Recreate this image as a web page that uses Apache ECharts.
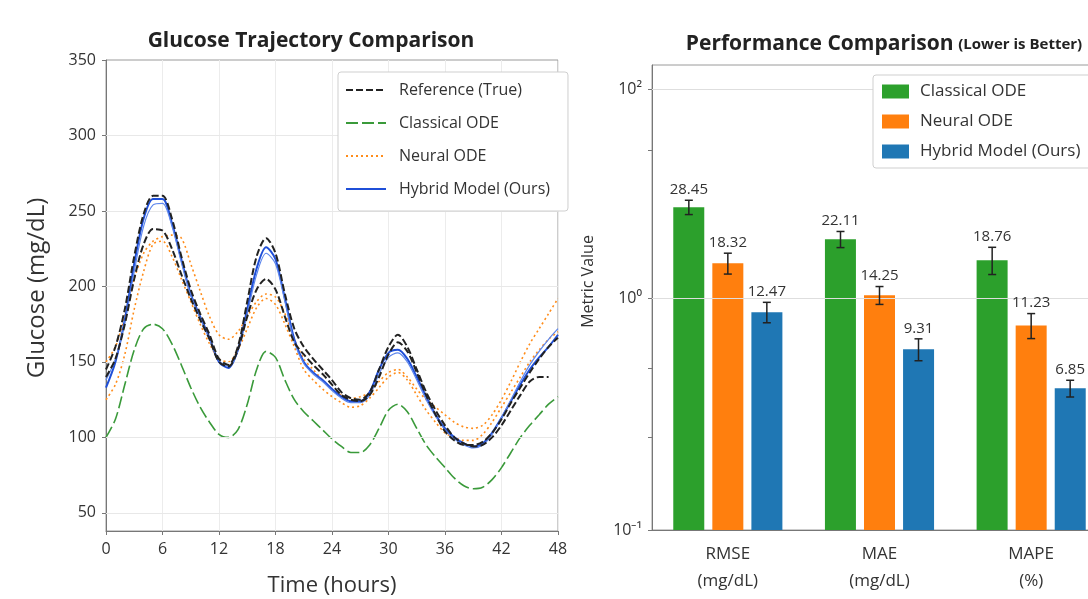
<!DOCTYPE html>
<html>
<head>
<meta charset="utf-8">
<script src="https://cdn.jsdelivr.net/npm/echarts@6/dist/echarts.min.js"></script>
<style>
html, body { margin: 0; background: #fff; }
#chart { width: 1088px; height: 599px; }
</style>
</head>
<body>
<div id="chart"></div>
<script>
// time axis (hours)
const hours = [0, 1, 2, 3, 4, 5, 6, 7, 8, 9, 10, 11, 12, 13, 14, 15, 16, 17, 18, 19, 20, 21, 22, 23, 24,
    25, 26, 27, 28, 29, 30, 31, 32, 33, 34, 35, 36, 37, 38, 39, 40, 41, 42, 43, 44, 45, 46, 47, 48];

const referenceMain = [145, 160, 185, 220, 248, 260, 260, 245, 220, 198, 182, 168, 152, 148, 160, 190, 220, 232, 222, 195,
    172, 160, 152, 145, 138, 130, 126, 125, 130, 145, 160, 168, 160, 145, 130, 118, 108, 100, 96, 94,
    95, 100, 108, 118, 128, 137, 140, 140, null];
const referenceAlt = [140, 152, 175, 205, 228, 238, 237, 225, 208, 192, 178, 165, 150, 147, 158, 180, 198, 205, 198, 180,
    163, 155, 148, 142, 135, 128, 125, 124, 128, 140, 155, 163, 157, 143, 128, 115, 104, 98, 95, 95,
    97, 103, 112, 123, 133, 143, 152, 160, 166];
const classicalOde = [100, 112, 135, 158, 172, 175, 172, 162, 148, 133, 120, 110, 102, 100, 105, 122, 145, 157, 153, 138,
    125, 117, 111, 105, 99, 94, 90, 90, 95, 106, 118, 122, 117, 106, 95, 87, 80, 73, 68, 66,
    67, 72, 80, 90, 100, 108, 115, 122, 127];
const neuralMain = [150, 160, 180, 205, 222, 230, 233, 234, 232, 215, 197, 180, 168, 165, 170, 180, 190, 195, 193, 182,
    165, 152, 145, 138, 132, 128, 126, 127, 130, 137, 143, 145, 140, 132, 125, 120, 115, 110, 107, 106,
    108, 115, 125, 137, 150, 162, 172, 182, 192];
const neuralAlt = [125, 135, 155, 185, 210, 228, 230, 220, 205, 190, 175, 162, 152, 150, 158, 172, 186, 192, 188, 175,
    160, 145, 138, 132, 127, 123, 120, 121, 126, 133, 140, 143, 138, 128, 118, 110, 103, 100, 98, 98,
    102, 110, 120, 130, 140, 150, 158, 165, 170];
const hybridMain = [133, 150, 178, 215, 245, 258, 258, 242, 218, 195, 180, 166, 150, 146, 158, 185, 212, 226, 218, 192,
    165, 150, 143, 138, 132, 127, 124, 124, 130, 145, 156, 158, 152, 140, 127, 115, 106, 100, 96, 94,
    96, 103, 113, 124, 135, 145, 153, 160, 168];
const hybridAlt = [138, 152, 176, 210, 240, 254, 255, 240, 216, 194, 179, 165, 151, 147, 157, 182, 208, 222, 215, 190,
    163, 149, 142, 137, 131, 126, 123, 123, 128, 142, 153, 156, 150, 138, 125, 114, 105, 99, 95, 93,
    95, 102, 113, 125, 137, 148, 157, 165, 172];

const glucoseTicks = [50, 100, 150, 200, 250, 300, 350];

// performance metrics
const metricNames = ['RMSE\n(mg/dL)', 'MAE\n(mg/dL)', 'MAPE\n(%)'];
const classicalScores = [28.45, 22.11, 18.76];
const neuralScores = [18.32, 14.25, 11.23];
const hybridScores = [12.47, 9.31, 6.85];
const classicalErr = [1.6, 1.4, 2.0];
const neuralErr = [1.5, 1.0, 1.1];
const hybridErr = [1.0, 0.8, 0.45];
const metricTickValues = [71.9, 13.9, 2.25];
const metricTickLabels = ['10²', '10⁰', '10⁻¹'];
const metricMinorTicks = [44.5, 8.0, 4.67];

const FONT = 'Open Sans';

function pairs(values) {
    return hours.map((h, i) => [h, values[i]]);
}

function lineSeries(name, values, color, width, dash, z) {
    return {
        name: name,
        type: 'line',
        data: pairs(values),
        symbol: 'none',
        smooth: 0.3,
        z: z,
        lineStyle: { color: color, width: width, type: dash },
        itemStyle: { color: color }
    };
}

function barSeries(name, values, color) {
    return {
        name: name,
        type: 'bar',
        xAxisIndex: 1,
        yAxisIndex: 1,
        data: values,
        barWidth: 31,
        barGap: '26%',
        itemStyle: { color: color }
    };
}

function errorSeries(slot, values, errs) {
    return {
        type: 'custom',
        xAxisIndex: 1,
        yAxisIndex: 1,
        z: 10,
        data: values.map((v, i) => [i, v - errs[i], v + errs[i], v]),
        encode: { x: 0, y: [1, 2] },
        renderItem: function (params, api) {
            const lo = api.coord([api.value(0), api.value(1)]);
            const hi = api.coord([api.value(0), api.value(2)]);
            const x = lo[0] + (slot - 1) * 39;
            const st = { stroke: '#222', lineWidth: 1.5 };
            return {
                type: 'group',
                children: [
                    { type: 'line', shape: { x1: x, y1: lo[1], x2: x, y2: hi[1] }, style: st },
                    { type: 'line', shape: { x1: x - 4, y1: hi[1], x2: x + 4, y2: hi[1] }, style: st },
                    { type: 'line', shape: { x1: x - 4, y1: lo[1], x2: x + 4, y2: lo[1] }, style: st },
                    {
                        type: 'text', x: x, y: hi[1] - 3,
                        style: {
                            text: api.value(3).toFixed(2), fill: '#333',
                            font: '15px "' + FONT + '"', align: 'center', verticalAlign: 'bottom'
                        }
                    }
                ]
            };
        }
    };
}

const chart = echarts.init(document.getElementById('chart'));

const glucoseGrid = lineSeries('Reference (True)', referenceMain, '#222', 2, [7, 3], 6);
glucoseGrid.markLine = {
    silent: true, symbol: 'none', label: { show: false },
    lineStyle: { color: '#e8e8e8', width: 1, type: 'solid' },
    data: glucoseTicks.slice(0, -1).map(v => ({ yAxis: v }))
};

const classicalBar = barSeries('Classical ODE ', classicalScores, '#2ca02c');
classicalBar.markLine = {
    silent: true, symbol: 'none', label: { show: false },
    lineStyle: { color: '#dedede', width: 1, type: 'solid' },
    data: metricTickValues.slice(0, 2).map(v => ({ yAxis: v }))
};

const option = {
    animation: false,
    textStyle: { fontFamily: FONT },
    title: [
        {
            text: 'Glucose Trajectory Comparison',
            left: 306, top: 26, textAlign: 'center',
            textStyle: { fontFamily: FONT, fontSize: 21, fontWeight: 'bold', color: '#222' }
        },
        {
            text: '{a|Performance Comparison} {b|(Lower is Better)}',
            left: 879, top: 29, textAlign: 'center',
            textStyle: {
                rich: {
                    a: { fontFamily: FONT, fontSize: 21, fontWeight: 'bold', color: '#222' },
                    b: { fontFamily: FONT, fontSize: 15, fontWeight: 'bold', color: '#222' }
                }
            }
        }
    ],
    legend: [
        {
            data: ['Reference (True)', 'Classical ODE', 'Neural ODE', 'Hybrid Model (Ours)'],
            orient: 'vertical',
            left: 338, top: 72, z: 20,
            padding: [10, 18, 14, 7],
            itemWidth: 40, itemHeight: 14, itemGap: 17,
            itemStyle: { opacity: 0 },
            borderColor: '#cfcfcf', borderWidth: 1, borderRadius: 3,
            backgroundColor: '#fff',
            textStyle: { fontFamily: FONT, fontSize: 16, color: '#333', padding: [0, 0, 0, 8] }
        },
        {
            data: ['Classical ODE ', 'Neural ODE ', 'Hybrid Model (Ours) '],
            orient: 'vertical',
            left: 873, top: 75, z: 20,
            padding: [8, 10, 8, 9],
            itemWidth: 27, itemHeight: 14, itemGap: 13,
            icon: 'rect',
            borderColor: '#cfcfcf', borderWidth: 1, borderRadius: 3,
            backgroundColor: '#fff',
            textStyle: { fontFamily: FONT, fontSize: 17, color: '#333', padding: [0, 0, 0, 6] }
        }
    ],
    grid: [
        {
            left: 106, top: 60, width: 452, height: 471, outerBoundsMode: 'none',
            show: true, borderColor: '#9a9a9a', borderWidth: 1, backgroundColor: 'transparent'
        },
        {
            left: 652, top: 65, width: 455, height: 465, outerBoundsMode: 'none',
            show: true, borderColor: '#9a9a9a', borderWidth: 1, backgroundColor: 'transparent'
        }
    ],
    xAxis: [
        {
            type: 'value', gridIndex: 0, min: 0, max: 48, interval: 6,
            name: 'Time (hours)', nameLocation: 'middle', nameGap: 44,
            nameTextStyle: { fontFamily: FONT, fontSize: 22, color: '#333' },
            axisLine: { lineStyle: { color: '#777' } },
            axisTick: { show: true, length: 4, lineStyle: { color: '#777' } },
            axisLabel: { fontFamily: FONT, fontSize: 16, color: '#333', margin: 10 },
            splitLine: { show: true, lineStyle: { color: '#ececec' } }
        },
        {
            type: 'category', gridIndex: 1, data: metricNames,
            axisLine: { lineStyle: { color: '#777' } },
            axisTick: { show: false },
            axisLabel: { fontFamily: FONT, fontSize: 17, color: '#333', lineHeight: 27, margin: 11 }
        }
    ],
    yAxis: [
        {
            type: 'value', gridIndex: 0, min: 38, max: 350,
            name: 'Glucose (mg/dL)', nameLocation: 'middle', nameGap: 57,
            nameTextStyle: { fontFamily: FONT, fontSize: 24, color: '#333', padding: [0, 0, 0, 15] },
            axisLine: { show: true, lineStyle: { color: '#777' } },
            axisTick: { show: true, length: 4, customValues: glucoseTicks, lineStyle: { color: '#777' } },
            axisLabel: { fontFamily: FONT, fontSize: 16, color: '#333', customValues: glucoseTicks, margin: 10 },
            splitLine: { show: false }
        },
        {
            type: 'log', gridIndex: 1, logBase: 10, min: 2.25, max: 87,
            name: 'Metric Value', nameLocation: 'middle', nameGap: 56,
            nameTextStyle: { fontFamily: FONT, fontSize: 16, color: '#333', padding: [0, 0, 0, 32] },
            axisLine: { show: true, lineStyle: { color: '#777' } },
            axisTick: { show: true, length: 4, customValues: metricTickValues.concat(metricMinorTicks), lineStyle: { color: '#777' } },
            axisLabel: {
                fontFamily: FONT, fontSize: 16, color: '#333', margin: 10,
                customValues: metricTickValues,
                formatter: function (v) {
                    let best = 0;
                    metricTickValues.forEach((t, i) => {
                        if (Math.abs(Math.log(t / v)) < Math.abs(Math.log(metricTickValues[best] / v))) best = i;
                    });
                    return metricTickLabels[best];
                }
            },
            splitLine: { show: false }
        }
    ],
    series: [
        glucoseGrid,
        lineSeries('Reference (True)', referenceAlt, '#222', 2, [7, 3], 6),
        lineSeries('Classical ODE', classicalOde, '#3a9a3a', 1.6, [12, 4], 3),
        lineSeries('Neural ODE', neuralMain, '#ff8c1a', 1.6, [2, 3], 4),
        lineSeries('Neural ODE', neuralAlt, '#ff8c1a', 1.6, [2, 3], 4),
        lineSeries('Hybrid Model (Ours)', hybridMain, '#1f4fd8', 2, 'solid', 5),
        lineSeries('Hybrid Model (Ours)', hybridAlt, '#5d86ec', 1.2, 'solid', 5),
        classicalBar,
        barSeries('Neural ODE ', neuralScores, '#ff7f0e'),
        barSeries('Hybrid Model (Ours) ', hybridScores, '#1f77b4'),
        errorSeries(0, classicalScores, classicalErr),
        errorSeries(1, neuralScores, neuralErr),
        errorSeries(2, hybridScores, hybridErr)
    ]
};

chart.setOption(option);
</script>
</body>
</html>
